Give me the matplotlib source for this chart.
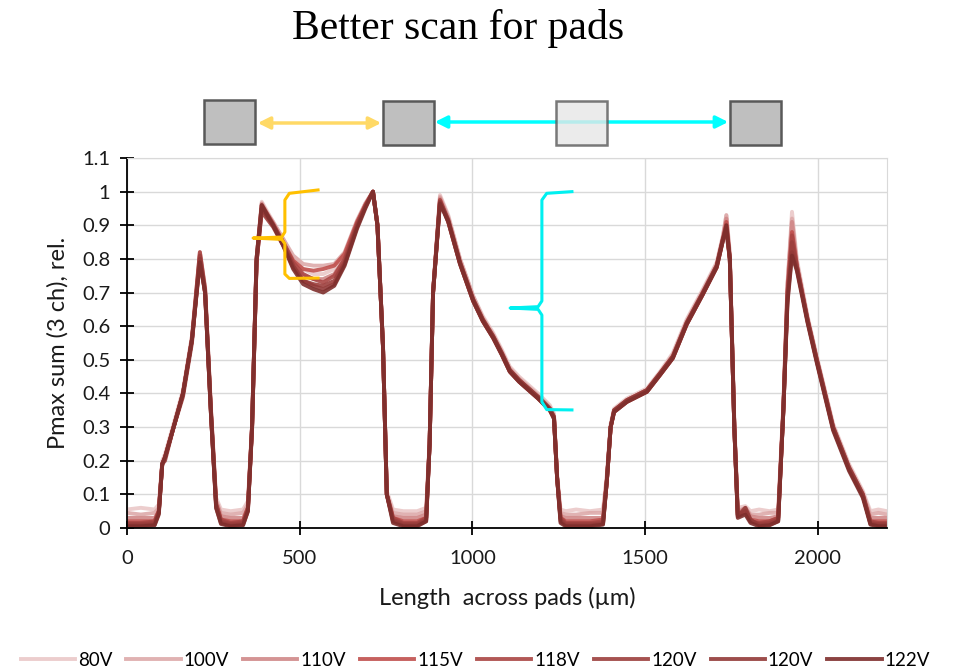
import matplotlib
matplotlib.use("Agg")
import matplotlib.pyplot as plt
from matplotlib.patches import Rectangle, FancyArrowPatch
from matplotlib.ticker import MultipleLocator, FuncFormatter

############## Data ##############
# scan position across the pads (um), shared by every voltage
x_um = [0, 40, 80, 92, 102, 110, 135, 162, 188, 211, 226, 243,
        258, 272, 300, 336, 350, 362, 375, 390, 423, 452, 481, 510,
        540, 568, 600, 630, 666, 690, 712, 725, 741, 752, 770, 800,
        840, 866, 876, 886, 906, 930, 964, 1002, 1030, 1060, 1085, 1108,
        1135, 1157, 1190, 1224, 1236, 1245, 1255, 1270, 1300, 1340, 1378, 1389,
        1400, 1410, 1447, 1505, 1543, 1580, 1620, 1667, 1707, 1725, 1735, 1745,
        1758, 1768, 1790, 1805, 1830, 1860, 1885, 1900, 1912, 1925, 1939, 1970,
        1997, 2044, 2090, 2130, 2152, 2175, 2200]

y_80v = [0.055, 0.06, 0.055, 0.07, 0.20, 0.22, 0.31, 0.41, 0.57, 0.82, 0.72, 0.36,
         0.09, 0.055, 0.05, 0.055, 0.08, 0.31, 0.80, 0.97, 0.91, 0.86, 0.80, 0.77,
         0.755, 0.755, 0.77, 0.81, 0.91, 0.965, 1.0, 0.91, 0.55, 0.11, 0.055, 0.05,
         0.05, 0.06, 0.26, 0.71, 0.99, 0.93, 0.80, 0.69, 0.63, 0.58, 0.53, 0.48,
         0.45, 0.43, 0.40, 0.365, 0.34, 0.16, 0.055, 0.05, 0.055, 0.05, 0.055, 0.16,
         0.31, 0.355, 0.385, 0.415, 0.465, 0.52, 0.62, 0.71, 0.79, 0.87, 0.93, 0.82,
         0.32, 0.06, 0.065, 0.05, 0.055, 0.05, 0.055, 0.37, 0.73, 0.94, 0.80, 0.63,
         0.51, 0.31, 0.19, 0.11, 0.05, 0.055, 0.05]
y_100v = [0.045, 0.04, 0.045, 0.06, 0.19, 0.21, 0.30, 0.40, 0.57, 0.82, 0.71, 0.35,
          0.08, 0.045, 0.04, 0.045, 0.07, 0.30, 0.80, 0.96, 0.91, 0.86, 0.81, 0.785,
          0.78, 0.78, 0.785, 0.82, 0.915, 0.965, 1.0, 0.90, 0.54, 0.10, 0.045, 0.04,
          0.04, 0.05, 0.25, 0.70, 0.985, 0.925, 0.80, 0.69, 0.625, 0.575, 0.525, 0.475,
          0.445, 0.425, 0.395, 0.36, 0.335, 0.15, 0.045, 0.04, 0.04, 0.045, 0.045, 0.15,
          0.30, 0.35, 0.38, 0.41, 0.46, 0.515, 0.615, 0.705, 0.785, 0.865, 0.93, 0.81,
          0.31, 0.05, 0.06, 0.04, 0.04, 0.045, 0.045, 0.36, 0.72, 0.92, 0.79, 0.625,
          0.505, 0.305, 0.185, 0.105, 0.04, 0.045, 0.04]
y_110v = [0.03, 0.03, 0.03, 0.05, 0.19, 0.21, 0.30, 0.40, 0.56, 0.81, 0.71, 0.35,
          0.08, 0.035, 0.03, 0.03, 0.06, 0.30, 0.80, 0.965, 0.90, 0.84, 0.78, 0.75,
          0.74, 0.74, 0.755, 0.80, 0.90, 0.96, 1.0, 0.90, 0.54, 0.10, 0.035, 0.03,
          0.03, 0.04, 0.25, 0.70, 0.98, 0.92, 0.79, 0.68, 0.62, 0.57, 0.52, 0.47,
          0.44, 0.42, 0.39, 0.355, 0.33, 0.15, 0.035, 0.03, 0.03, 0.03, 0.03, 0.14,
          0.30, 0.35, 0.38, 0.41, 0.46, 0.51, 0.61, 0.70, 0.78, 0.86, 0.92, 0.80,
          0.30, 0.045, 0.06, 0.035, 0.03, 0.03, 0.035, 0.36, 0.72, 0.91, 0.78, 0.62,
          0.50, 0.30, 0.18, 0.10, 0.03, 0.03, 0.03]
y_115v = [0.02, 0.02, 0.02, 0.05, 0.19, 0.21, 0.30, 0.40, 0.56, 0.80, 0.70, 0.34,
          0.07, 0.025, 0.02, 0.02, 0.06, 0.30, 0.79, 0.95, 0.90, 0.85, 0.795, 0.77,
          0.765, 0.77, 0.78, 0.815, 0.91, 0.96, 1.0, 0.90, 0.54, 0.10, 0.03, 0.02,
          0.02, 0.03, 0.25, 0.70, 0.975, 0.91, 0.785, 0.675, 0.615, 0.565, 0.515, 0.465,
          0.435, 0.415, 0.385, 0.35, 0.33, 0.15, 0.03, 0.02, 0.02, 0.02, 0.025, 0.14,
          0.30, 0.345, 0.375, 0.405, 0.455, 0.505, 0.605, 0.695, 0.775, 0.855, 0.91, 0.80,
          0.30, 0.04, 0.05, 0.025, 0.02, 0.02, 0.03, 0.35, 0.70, 0.88, 0.78, 0.615,
          0.495, 0.295, 0.175, 0.095, 0.02, 0.02, 0.02]
y_118v = [0.015, 0.015, 0.02, 0.05, 0.19, 0.21, 0.30, 0.40, 0.56, 0.82, 0.71, 0.35,
          0.07, 0.025, 0.015, 0.02, 0.06, 0.30, 0.80, 0.96, 0.905, 0.85, 0.79, 0.755,
          0.74, 0.73, 0.75, 0.80, 0.905, 0.96, 1.0, 0.90, 0.54, 0.10, 0.03, 0.015,
          0.015, 0.03, 0.25, 0.70, 0.975, 0.915, 0.79, 0.68, 0.62, 0.57, 0.52, 0.47,
          0.44, 0.42, 0.39, 0.355, 0.33, 0.15, 0.03, 0.015, 0.015, 0.015, 0.02, 0.14,
          0.30, 0.35, 0.38, 0.41, 0.46, 0.51, 0.61, 0.70, 0.78, 0.86, 0.90, 0.80,
          0.30, 0.04, 0.05, 0.02, 0.015, 0.02, 0.03, 0.35, 0.70, 0.87, 0.78, 0.62,
          0.50, 0.30, 0.18, 0.10, 0.02, 0.015, 0.015]
y_120v_a = [0.012, 0.012, 0.015, 0.045, 0.19, 0.20, 0.30, 0.39, 0.55, 0.81, 0.70, 0.34,
            0.07, 0.02, 0.012, 0.015, 0.055, 0.29, 0.79, 0.94, 0.895, 0.84, 0.775, 0.735,
            0.725, 0.72, 0.735, 0.79, 0.90, 0.955, 1.0, 0.90, 0.54, 0.10, 0.025, 0.012,
            0.012, 0.025, 0.25, 0.70, 0.97, 0.91, 0.785, 0.675, 0.615, 0.565, 0.515, 0.465,
            0.435, 0.415, 0.385, 0.35, 0.325, 0.15, 0.025, 0.012, 0.012, 0.012, 0.015, 0.14,
            0.30, 0.345, 0.375, 0.405, 0.455, 0.505, 0.605, 0.695, 0.775, 0.855, 0.89, 0.80,
            0.30, 0.035, 0.045, 0.02, 0.012, 0.015, 0.025, 0.35, 0.69, 0.85, 0.775, 0.615,
            0.495, 0.295, 0.175, 0.095, 0.015, 0.012, 0.012]
y_120v_b = [0.008, 0.008, 0.01, 0.045, 0.19, 0.21, 0.30, 0.40, 0.56, 0.80, 0.70, 0.34,
            0.06, 0.015, 0.008, 0.01, 0.05, 0.30, 0.79, 0.95, 0.90, 0.845, 0.78, 0.735,
            0.72, 0.71, 0.725, 0.785, 0.895, 0.955, 1.0, 0.90, 0.54, 0.10, 0.02, 0.008,
            0.008, 0.02, 0.25, 0.70, 0.97, 0.915, 0.79, 0.68, 0.62, 0.57, 0.52, 0.47,
            0.44, 0.42, 0.39, 0.355, 0.33, 0.15, 0.02, 0.008, 0.008, 0.008, 0.012, 0.14,
            0.30, 0.35, 0.38, 0.41, 0.46, 0.51, 0.61, 0.70, 0.78, 0.86, 0.88, 0.80,
            0.30, 0.035, 0.06, 0.025, 0.008, 0.01, 0.02, 0.35, 0.68, 0.82, 0.77, 0.62,
            0.50, 0.30, 0.18, 0.10, 0.012, 0.008, 0.008]
y_122v = [0.005, 0.005, 0.008, 0.04, 0.19, 0.21, 0.30, 0.40, 0.56, 0.79, 0.70, 0.34,
          0.06, 0.012, 0.005, 0.008, 0.05, 0.30, 0.80, 0.96, 0.90, 0.84, 0.77, 0.725,
          0.71, 0.70, 0.72, 0.78, 0.89, 0.95, 1.0, 0.90, 0.54, 0.10, 0.015, 0.005,
          0.005, 0.02, 0.25, 0.70, 0.965, 0.91, 0.785, 0.675, 0.615, 0.565, 0.515, 0.465,
          0.435, 0.415, 0.385, 0.35, 0.325, 0.15, 0.015, 0.005, 0.005, 0.005, 0.01, 0.14,
          0.30, 0.345, 0.375, 0.405, 0.455, 0.505, 0.605, 0.695, 0.775, 0.855, 0.90, 0.80,
          0.30, 0.03, 0.04, 0.015, 0.005, 0.008, 0.02, 0.35, 0.67, 0.81, 0.765, 0.61,
          0.49, 0.29, 0.17, 0.09, 0.01, 0.005, 0.005]

labels = ["80V", "100V", "110V", "115V", "118V", "120V", "120V", "122V"]
series = [y_80v, y_100v, y_110v, y_115v, y_118v, y_120v_a, y_120v_b, y_122v]
colors = ["#EAC8C8", "#DDAAAA", "#D08888", "#C0504D", "#AA4644", "#9C3F3D", "#933A38", "#7E2E2C"]
##################################

W, H = 970, 672
fig = plt.figure(figsize=(W / 100, H / 100), dpi=100)
# axes box measured in pixels off the reference
ax = fig.add_axes([127 / W, 1 - 528 / H, (887 - 127) / W, (528 - 158) / H])

for ys, lab, col in zip(series, labels, colors):
    ax.plot(x_um, ys, color=col, lw=2.8, alpha=0.9, label=lab, solid_joinstyle="round")

ax.set_xlim(0, 2200)
ax.set_ylim(0, 1.1)
ax.xaxis.set_major_locator(MultipleLocator(500))
ax.yaxis.set_major_locator(MultipleLocator(0.1))
ax.yaxis.set_major_formatter(FuncFormatter(lambda v, p: "{:g}".format(round(v, 1))))
ax.grid(True, color="#D9D9D9", lw=1)
ax.set_axisbelow(True)

for side in ["left", "bottom"]:
    ax.spines[side].set_color("black")
    ax.spines[side].set_linewidth(1.3)
for side in ["top", "right"]:
    ax.spines[side].set_color("#D9D9D9")

sans = ["Lato", "DejaVu Sans"]
ax.tick_params(direction="inout", length=10, width=1.3, colors="black", pad=7)
for t in ax.get_xticklabels() + ax.get_yticklabels():
    t.set_fontfamily(sans)
    t.set_fontsize(14.5)
    t.set_color("#1a1a1a")
ax.tick_params(axis="x", pad=11)

ax.set_xlabel("Length  across pads (µm)", family=sans, fontsize=17, color="#1a1a1a", labelpad=14)
ax.set_ylabel("Pmax sum (3 ch), rel.", family=sans, fontsize=17, color="#1a1a1a", labelpad=10)

# brackets drawn over the plot
orange = "#FFC000"
cyan = "#00F0F0"
ax.plot([553, 470, 457, 457, 448, 365, 448, 457, 457, 470, 553],
        [1.005, 0.995, 0.975, 0.88, 0.865, 0.862, 0.858, 0.845, 0.755, 0.742, 0.743],
        color=orange, lw=2.2, solid_joinstyle="round", zorder=5)
ax.plot([1288, 1215, 1201, 1201, 1190, 1109, 1190, 1201, 1201, 1215, 1288],
        [1.0, 0.995, 0.975, 0.675, 0.658, 0.654, 0.650, 0.633, 0.375, 0.352, 0.351],
        color=cyan, lw=2.2, solid_joinstyle="round", zorder=5)

# pads and pitch arrows above the axes, in figure pixels
def fx(px):
    return px / W

def fy(py):
    return 1 - py / H

arrow_kw = dict(arrowstyle="<|-|>", mutation_scale=18, lw=2.5, transform=fig.transFigure)
fig.patches.append(FancyArrowPatch((fx(255), fy(123)), (fx(384), fy(123)),
                                   color="#FFD966", **arrow_kw))
fig.patches.append(FancyArrowPatch((fx(432), fy(122)), (fx(731), fy(122)),
                                   color="#00FFFF", **arrow_kw))

pads = [(204, 100, "#BFBFBF", 1.0), (383, 101, "#BFBFBF", 1.0),
        (556, 101, "#E6E6E6", 0.8), (730, 101, "#BFBFBF", 1.0)]
for px, py, fc, a in pads:
    fig.patches.append(Rectangle((fx(px), fy(py + 44)), 51 / W, 44 / H, transform=fig.transFigure,
                                 facecolor=fc, edgecolor="#595959", lw=1.8, alpha=a, zorder=3))

fig.text(0.472, fy(28), "Better scan for pads", ha="center", va="center",
         family=["Liberation Serif", "DejaVu Serif"], fontsize=30, color="black")

fig.legend(loc="center", bbox_to_anchor=(0.49, fy(660)), ncol=8, frameon=False,
           prop=dict(family=sans, size=13.5),
           handlelength=2.9, handletextpad=0.15, columnspacing=0.75)

fig.savefig("out.png", dpi=100)
